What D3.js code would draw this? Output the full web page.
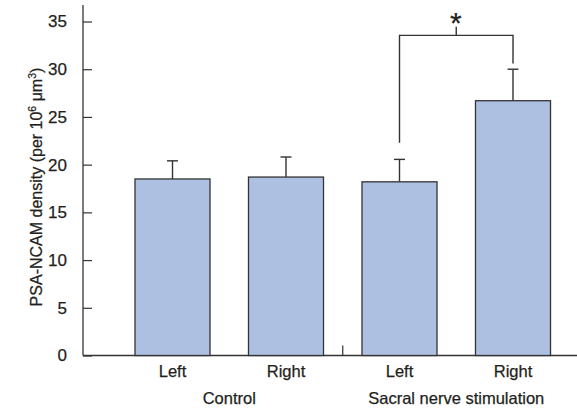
<!DOCTYPE html>
<html>
<head>
<meta charset="utf-8">
<script src="https://cdn.jsdelivr.net/npm/d3@7"></script>
<style>
  body { margin: 0; background: #fff; }
  text { font-family: "Liberation Sans", Arial, sans-serif; fill: #231f20; stroke: #231f20; stroke-width: 0.25px; }
</style>
</head>
<body>
<div id="chart"></div>
<script>
// data
var bars = ["Control-Left", "Control-Right", "SNS-Left", "SNS-Right"];
var barLabels = ["Left", "Right", "Left", "Right"];
var groups = ["Control", "Sacral nerve stimulation"];
var means = [18.5, 18.7, 18.2, 26.7];
var errors = [1.9, 2.1, 2.35, 3.3];
var yTicks = [0, 5, 10, 15, 20, 25, 30, 35];
// significance bracket: left leg end, right leg end, bar level, top of tick
var bracket = [22.3, 30.6, 33.55, 34.45];

var width = 577, height = 409;

var svg = d3.select("#chart").append("svg")
    .attr("width", width)
    .attr("height", height);

var y = d3.scaleLinear().domain([0, 35]).range([355.5, 21.5]);
var x = d3.scaleBand().domain(bars)
    .range([115.75, 569.75])
    .paddingInner(0.339)
    .paddingOuter(0.1695);

var axisX = 83;
var ink = "#333";

// y axis
var yAxis = d3.axisLeft(y).tickValues(yTicks).tickSize(-9).tickPadding(16).tickSizeOuter(0);
var gy = svg.append("g").attr("transform", "translate(" + axisX + ",0)").call(yAxis);
gy.select(".domain").remove();
gy.selectAll(".tick line").attr("stroke", ink).attr("stroke-width", 1.2);
gy.selectAll(".tick text").style("font-size", "17px").attr("fill", "#231f20");
svg.append("line")
    .attr("x1", axisX).attr("x2", axisX)
    .attr("y1", 5).attr("y2", y(0))
    .attr("stroke", ink).attr("stroke-width", 1.3);

// x axis baseline
svg.append("line")
    .attr("x1", axisX).attr("x2", width)
    .attr("y1", y(0)).attr("y2", y(0))
    .attr("stroke", ink).attr("stroke-width", 1.3);

// divider tick between groups
var cx = function(d) { return x(d) + x.bandwidth() / 2; };
var midX = (cx(bars[1]) + cx(bars[2])) / 2;
svg.append("line")
    .attr("x1", midX).attr("x2", midX)
    .attr("y1", y(0)).attr("y2", y(0) - 10)
    .attr("stroke", ink).attr("stroke-width", 1.2);

// error bars
var eb = svg.append("g").selectAll("g").data(bars).enter().append("g");
eb.append("line")
    .attr("x1", cx).attr("x2", cx)
    .attr("y1", function(d, i) { return y(means[i]); })
    .attr("y2", function(d, i) { return y(means[i] + errors[i]); })
    .attr("stroke", ink).attr("stroke-width", 1.4);
eb.append("line")
    .attr("x1", function(d) { return cx(d) - 5.5; })
    .attr("x2", function(d) { return cx(d) + 5.5; })
    .attr("y1", function(d, i) { return y(means[i] + errors[i]); })
    .attr("y2", function(d, i) { return y(means[i] + errors[i]); })
    .attr("stroke", ink).attr("stroke-width", 1.4);

// bars
svg.append("g").selectAll("rect").data(bars).enter().append("rect")
    .attr("x", function(d) { return x(d); })
    .attr("width", x.bandwidth())
    .attr("y", function(d, i) { return y(means[i]); })
    .attr("height", function(d, i) { return y(0) - y(means[i]); })
    .attr("fill", "#aec0e1")
    .attr("stroke", ink)
    .attr("stroke-width", 1.3);

// bar labels
svg.append("g").selectAll("text").data(bars).enter().append("text")
    .attr("x", cx)
    .attr("y", 377)
    .attr("text-anchor", "middle")
    .style("font-size", "16.5px")
    .text(function(d, i) { return barLabels[i]; });

// group labels
svg.append("g").selectAll("text").data(groups).enter().append("text")
    .attr("x", function(d, i) { return (cx(bars[i * 2]) + cx(bars[i * 2 + 1])) / 2; })
    .attr("y", 404)
    .attr("text-anchor", "middle")
    .style("font-size", "16.5px")
    .text(function(d) { return d; });

// significance bracket
var bl = cx(bars[2]), br = cx(bars[3]), bm = (bl + br) / 2;
svg.append("path")
    .attr("d", "M" + bl + "," + y(bracket[0]) + "V" + y(bracket[2]) + "H" + br + "V" + y(bracket[1]) +
               "M" + bm + "," + y(bracket[2]) + "V" + y(bracket[3]))
    .attr("fill", "none")
    .attr("stroke", ink)
    .attr("stroke-width", 1.4);
svg.append("text")
    .attr("x", bm - 0.5)
    .attr("y", 33)
    .attr("text-anchor", "middle")
    .style("font-size", "30px")
    .text("*");

// y axis title
var title = svg.append("text")
    .attr("transform", "translate(42," + 187 + ") rotate(-90)")
    .attr("text-anchor", "middle")
    .style("font-size", "16px");
title.append("tspan").text("PSA-NCAM density (per 10");
title.append("tspan").attr("dy", -6).style("font-size", "10.5px").text("6");
title.append("tspan").attr("dy", 6).text(" \u03bcm");
title.append("tspan").attr("dy", -6).style("font-size", "10.5px").text("3");
title.append("tspan").attr("dy", 6).text(")");
</script>
</body>
</html>
